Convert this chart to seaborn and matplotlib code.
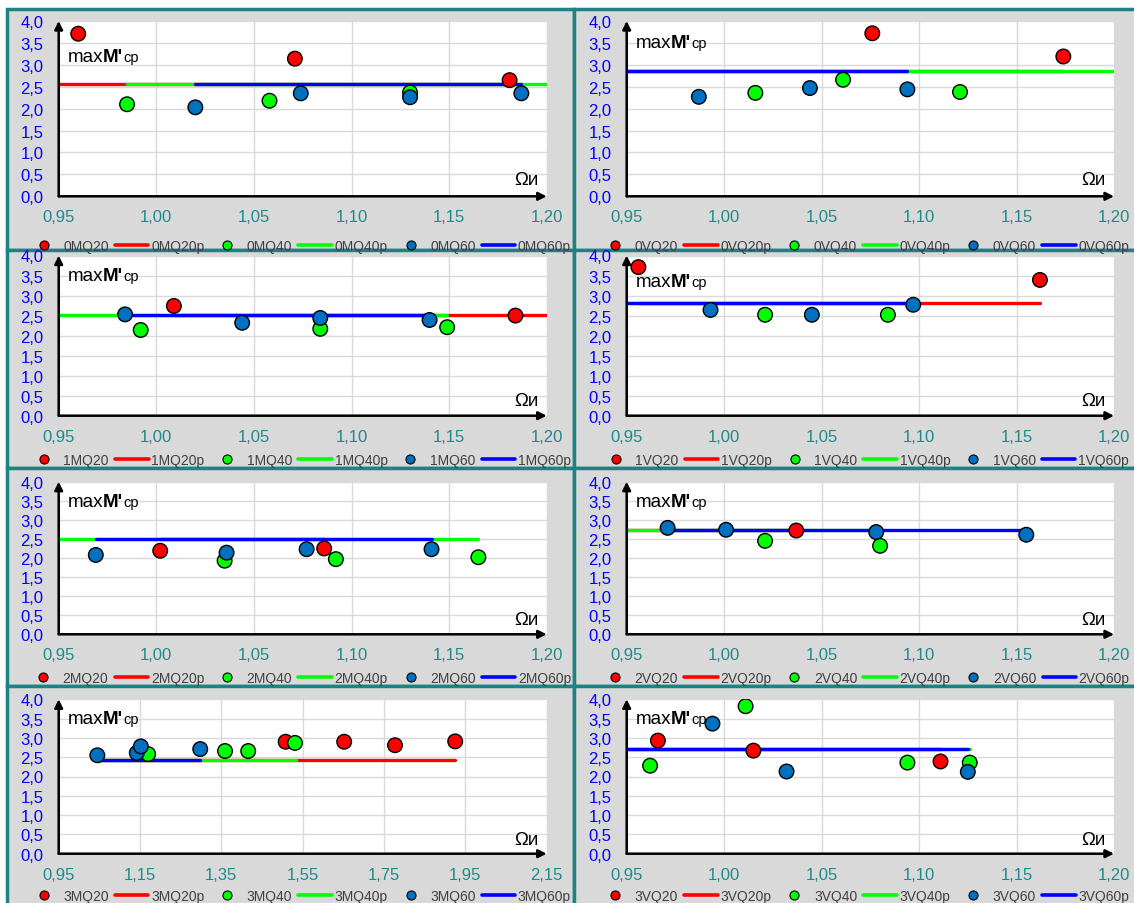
import matplotlib.pyplot as plt
import numpy as np
import pandas as pd
import seaborn as sns
from matplotlib.patches import Rectangle
from matplotlib.lines import Line2D
from matplotlib.offsetbox import TextArea, HPacker, AnnotationBbox

# panels, read left to right, top to bottom
panels = ["0MQ", "0VQ", "1MQ", "1VQ", "2MQ", "2VQ", "3MQ", "3VQ"]

# measured points (Omega_i, max M'cp)
x20 = {"0MQ": [0.960, 1.071, 1.181], "0VQ": [1.076, 1.174], "1MQ": [1.009, 1.184],
       "1VQ": [0.956, 1.162], "2MQ": [1.002, 1.086], "2VQ": [1.037],
       "3MQ": [1.508, 1.652, 1.777, 1.925], "3VQ": [0.966, 1.015, 1.111]}
y20 = {"0MQ": [3.71, 3.14, 2.65], "0VQ": [3.72, 3.19], "1MQ": [2.74, 2.50],
       "1VQ": [3.71, 3.39], "2MQ": [2.19, 2.25], "2VQ": [2.72],
       "3MQ": [2.90, 2.90, 2.81, 2.91], "3VQ": [2.93, 2.67, 2.39]}
x40 = {"0MQ": [0.985, 1.058, 1.130], "0VQ": [1.016, 1.061, 1.121], "1MQ": [0.992, 1.084, 1.149],
       "1VQ": [1.021, 1.084], "2MQ": [1.035, 1.092, 1.165], "2VQ": [1.021, 1.080],
       "3MQ": [1.170, 1.359, 1.416, 1.531], "3VQ": [0.962, 1.011, 1.094, 1.126]}
y40 = {"0MQ": [2.10, 2.18, 2.37], "0VQ": [2.36, 2.66, 2.38], "1MQ": [2.14, 2.17, 2.21],
       "1VQ": [2.52, 2.52], "2MQ": [1.93, 1.97, 2.02], "2VQ": [2.45, 2.32],
       "3MQ": [2.58, 2.66, 2.66, 2.87], "3VQ": [2.28, 3.82, 2.36, 2.36]}
x60 = {"0MQ": [1.020, 1.074, 1.130, 1.187], "0VQ": [0.987, 1.044, 1.094],
       "1MQ": [0.984, 1.044, 1.084, 1.140], "1VQ": [0.993, 1.045, 1.097],
       "2MQ": [0.969, 1.036, 1.077, 1.141], "2VQ": [0.971, 1.001, 1.078, 1.155],
       "3MQ": [1.045, 1.142, 1.152, 1.298], "3VQ": [0.994, 1.032, 1.125]}
y60 = {"0MQ": [2.03, 2.35, 2.26, 2.35], "0VQ": [2.27, 2.47, 2.44],
       "1MQ": [2.53, 2.32, 2.44, 2.39], "1VQ": [2.64, 2.52, 2.77],
       "2MQ": [2.08, 2.14, 2.23, 2.23], "2VQ": [2.79, 2.74, 2.68, 2.61],
       "3MQ": [2.55, 2.61, 2.78, 2.71], "3VQ": [3.37, 2.13, 2.12]}

# design level (p-lines) and x-extent of each p-line
level = {"0MQ": 2.56, "0VQ": 2.86, "1MQ": 2.51, "1VQ": 2.81,
         "2MQ": 2.49, "2VQ": 2.74, "3MQ": 2.42, "3VQ": 2.70}
span20 = {"0MQ": (0.95, 1.181), "0VQ": (0.95, 1.174), "1MQ": (1.009, 1.20), "1VQ": (0.956, 1.162),
          "2MQ": (1.002, 1.086), "2VQ": (0.95, 1.037), "3MQ": (1.05, 1.925), "3VQ": (0.95, 1.111)}
span40 = {"0MQ": (0.985, 1.20), "0VQ": (0.95, 1.20), "1MQ": (0.95, 1.149), "1VQ": (0.95, 1.084),
          "2MQ": (0.95, 1.165), "2VQ": (0.95, 1.080), "3MQ": (1.05, 1.534), "3VQ": (0.95, 1.126)}
span60 = {"0MQ": (1.020, 1.187), "0VQ": (0.95, 1.094), "1MQ": (0.984, 1.140), "1VQ": (0.95, 1.097),
          "2MQ": (0.969, 1.141), "2VQ": (0.971, 1.155), "3MQ": (1.05, 1.298), "3VQ": (0.95, 1.125)}

# colours
RED = "#FF0000"
GREEN = "#00FF00"
BLUE_PT = "#0070C0"
BLUE_LN = "#0000FF"
TEAL = "#1B8383"
PANEL_BG = "#D9D9D9"

sns.set_theme(style="white")
plt.rcParams["font.family"] = ["Liberation Sans", "DejaVu Sans"]

W, H = 1134, 904
fig = plt.figure(figsize=(W / 100, H / 100), dpi=100)
fig.patch.set_facecolor("white")


def fx(px):
    return px / W


def fy(py):
    return 1 - py / H


# gray panel frames with teal borders
col_edges = [(7, 574), (574, 1140)]
row_edges = [(10, 251), (251, 469), (469, 687), (687, 910)]
for r0, r1 in row_edges:
    for c0, c1 in col_edges:
        fig.add_artist(Rectangle((fx(c0), fy(r1)), (c1 - c0) / W, (r1 - r0) / H,
                                 transform=fig.transFigure, facecolor=PANEL_BG,
                                 edgecolor=TEAL, lw=2.5, zorder=-1))

# plot areas in pixels
col_x = [(58.7, 546.7), (626.7, 1114.0)]
row_y = [(22, 197.3), (256.5, 416.7), (482.7, 635.3), (700.3, 854.7)]
legend_y = [246.7, 461, 678.7, 897]
legend_x = [299, 864]
label_y = {"0MQ": 3.2, "0VQ": 3.52, "1MQ": 3.49, "1VQ": 3.36,
           "2MQ": 3.48, "2VQ": 3.48, "3MQ": 3.49, "3VQ": 3.49}

for i, p in enumerate(panels):
    r, c = i // 2, i % 2
    x0, x1 = col_x[c]
    y0, y1 = row_y[r]
    ax = fig.add_axes([fx(x0), fy(y1), (x1 - x0) / W, (y1 - y0) / H])
    ax.set_facecolor("white")

    pts = pd.DataFrame({
        "x": x20[p] + x40[p] + x60[p],
        "y": y20[p] + y40[p] + y60[p],
        "s": [p + "20"] * len(x20[p]) + [p + "40"] * len(x40[p]) + [p + "60"] * len(x60[p]),
    })
    lines = pd.DataFrame({
        "x": list(span20[p]) + list(span40[p]) + list(span60[p]),
        "y": [level[p]] * 6,
        "s": [p + "20p"] * 2 + [p + "40p"] * 2 + [p + "60p"] * 2,
    })
    sns.lineplot(data=lines, x="x", y="y", hue="s",
                 palette={p + "20p": RED, p + "40p": GREEN, p + "60p": BLUE_LN},
                 lw=2.4, legend=False, ax=ax, estimator=None, sort=False, zorder=3)
    sns.scatterplot(data=pts, x="x", y="y", hue="s",
                    palette={p + "20": RED, p + "40": GREEN, p + "60": BLUE_PT},
                    s=110, edgecolor="black", linewidth=1, legend=False, ax=ax, zorder=4)

    if p == "3MQ":
        xt = np.round(np.arange(0.95, 2.16, 0.2), 2)
    else:
        xt = np.round(np.arange(0.95, 1.201, 0.05), 2)
    yt = np.arange(0, 4.01, 0.5)
    ax.set_xlim(xt[0], xt[-1])
    ax.set_ylim(0, 4)
    ax.set_xticks(xt)
    ax.set_xticklabels(["{:.2f}".format(v).replace(".", ",") for v in xt])
    ax.set_yticks(yt)
    ax.set_yticklabels(["{:.1f}".format(v).replace(".", ",") for v in yt])
    ax.tick_params(axis="x", length=0, pad=9.5, labelsize=12, labelcolor="#1F8A8A")
    ax.tick_params(axis="y", length=0, pad=11, labelsize=12, labelcolor="#0000FF")
    ax.set_xlabel("")
    ax.set_ylabel("")
    ax.grid(True, color="#D9D9D9", lw=1)
    for sp in ax.spines.values():
        sp.set_visible(False)

    # axis arrows
    arrow = dict(arrowstyle="-|>", color="black", lw=1.8, mutation_scale=12, shrinkA=0, shrinkB=0)
    ax.annotate("", xy=(0, 1.0), xytext=(0, 0), xycoords="axes fraction", arrowprops=arrow,
                annotation_clip=False, zorder=5)
    ax.annotate("", xy=(1.0, 0), xytext=(0, 0), xycoords="axes fraction", arrowprops=arrow,
                annotation_clip=False, zorder=5)

    # maxM'cp label
    ylab = HPacker(children=[TextArea("max", textprops=dict(fontsize=13.5, color="black")),
                             TextArea("M'", textprops=dict(fontsize=13.5, fontweight="bold", color="black")),
                             TextArea("cp", textprops=dict(fontsize=10.5, color="black"))],
                   align="baseline", pad=0, sep=0)
    ax.add_artist(AnnotationBbox(ylab, (0, label_y[p]), xycoords=("axes fraction", "data"),
                                 xybox=(6.5, 0), boxcoords="offset points", box_alignment=(0, 0.5),
                                 frameon=False, pad=0, zorder=2))
    # Omega label
    ax.annotate("Ωи", xy=(1, 0.38), xycoords=("axes fraction", "data"), xytext=(-6, 0),
                textcoords="offset points", ha="right", va="center", fontsize=13.5,
                color="black", zorder=2)

    # legend row under the panel
    handles = []
    for suf, mc, lc in [("20", RED, RED), ("40", GREEN, GREEN), ("60", BLUE_PT, BLUE_LN)]:
        handles.append(Line2D([], [], ls="none", marker="o", ms=6.5, mfc=mc, mec="black", mew=0.8,
                              label=p + suf))
        handles.append(Line2D([], [], color=lc, lw=2.6, label=p + suf + "p"))
    ax.legend(handles=handles, loc="center", bbox_to_anchor=(fx(legend_x[c]), fy(legend_y[r])),
              bbox_transform=fig.transFigure, ncol=6, frameon=False, fontsize=10,
              handlelength=2.4, handletextpad=0.2, columnspacing=0.45, borderaxespad=0,
              borderpad=0, labelcolor="#404040")

plt.savefig("out.png", dpi=100)
